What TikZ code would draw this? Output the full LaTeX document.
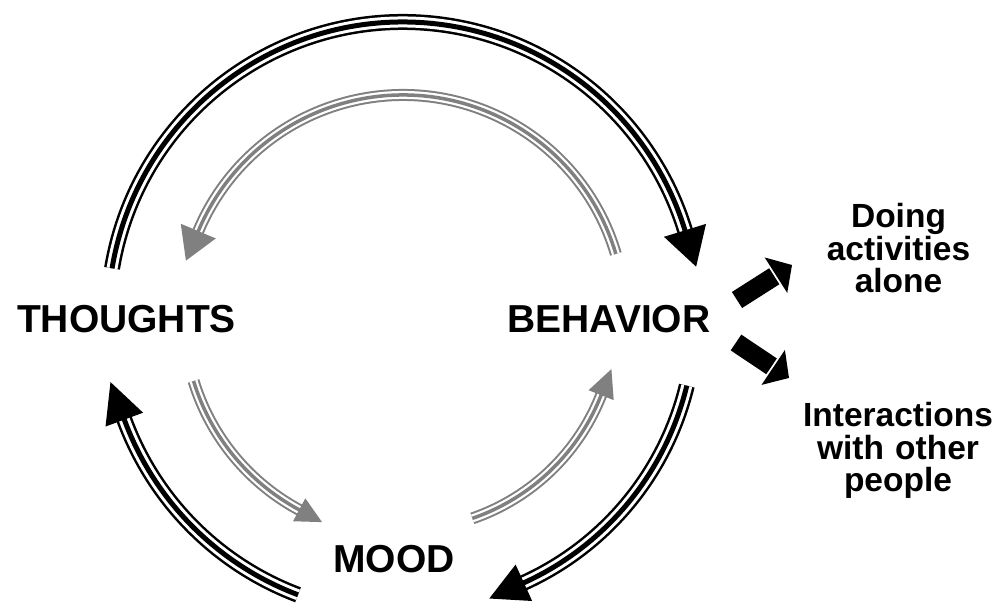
\documentclass[tikz,border=0pt]{standalone}
\usepackage{fontspec}
\setmainfont{Liberation Sans}
\usetikzlibrary{calc}
\definecolor{arcgray}{RGB}{128,128,128}
\tikzset{
  blackline/.style={line width=5pt, draw=black,
    preaction={draw, black, line width=16pt},
    preaction={draw, white, line width=11pt}},
  grayline/.style={line width=3.5pt, draw=arcgray,
    preaction={draw, arcgray, line width=12pt},
    preaction={draw, white, line width=8pt}},
  blackhead/.style={fill=black},
  grayhead/.style={fill=arcgray},
  mainlabel/.style={font=\bfseries\fontsize{39}{39}\selectfont, anchor=base, inner sep=0pt},
  sidelabel/.style={font=\bfseries\fontsize{33.5}{32.5}\selectfont, align=center,
    text width=220pt, anchor=base, inner sep=0pt},
  blockshaft/.style={line width=19pt, draw=black},
}
% #1 line style, #2 head style, #3 radius, #4 start angle, #5 tip angle, #6 head length, #7 head width
\newcommand\ringarc[7]{%
  \pgfmathsetmacro\rsg{(#5>#4)?1:-1}%
  \pgfmathsetmacro\rbase{#5-\rsg*deg(#6/#3)}%
  \pgfmathsetmacro\rlineend{\rbase+\rsg*1.0}%
  \pgfmathsetmacro\rdir{\rbase+\rsg*90}%
  \draw[#1] (C) ++(#4:#3pt) arc[start angle=#4, end angle=\rlineend, radius=#3pt];
  \path (C) ++(\rbase:#3pt) coordinate (hb);
  \fill[#2, shift={(hb)}, rotate=\rdir] (0,#7/2) -- (#6,0) -- (0,-#7/2) -- cycle;
}
% block arrow from #1 (tail) to #2 (tip)
\newcommand\blockarrow[2]{%
  \coordinate (bb) at ($(#2)!19pt!(#1)$);
  \coordinate (bs) at ($(#2)!21pt!(#1)$);
  \draw[blockshaft] (#1) -- (bs);
  \fill[black] ($(bb)!21pt!90:(#2)$) -- (#2) -- ($(bb)!21pt!-90:(#2)$) -- cycle;
}
\begin{document}
\begin{tikzpicture}[x=1pt,y=1pt]
\useasboundingbox (0,0) rectangle (1004,604);
\coordinate (C) at (403,287);

\node[mainlabel] (thoughts) at (126.5,271) {THOUGHTS};
\node[mainlabel] (behavior) at (609,271) {BEHAVIOR};
\node[mainlabel] (mood) at (394,31) {MOOD};
\node[sidelabel] (alone) at (898.5,376) {Doing\\activities\\alone};
\node[sidelabel] (others) at (898,177) {Interactions\\with other\\people};

% black outer cycle
\ringarc{blackline}{blackhead}{295}{170.5}{9.7}{38}{44}
\ringarc{blackline}{blackhead}{292}{-13.6}{-73}{38}{40}
\ringarc{blackline}{blackhead}{297}{-110.7}{-167.5}{40}{40}

% gray inner cycle
\ringarc{grayline}{grayhead}{222}{16.5}{165.5}{32}{38}
\ringarc{grayline}{grayhead}{219}{197}{248.5}{26}{26}
\ringarc{grayline}{grayhead}{213}{-71}{-14}{28}{27}

% block arrows from BEHAVIOR
\coordinate (ut) at (737,304);
\coordinate (up) at (792,339);
\coordinate (lt) at (736,261.5);
\coordinate (lp) at (789,226);
\blockarrow{ut}{up}
\blockarrow{lt}{lp}
\end{tikzpicture}
\end{document}
